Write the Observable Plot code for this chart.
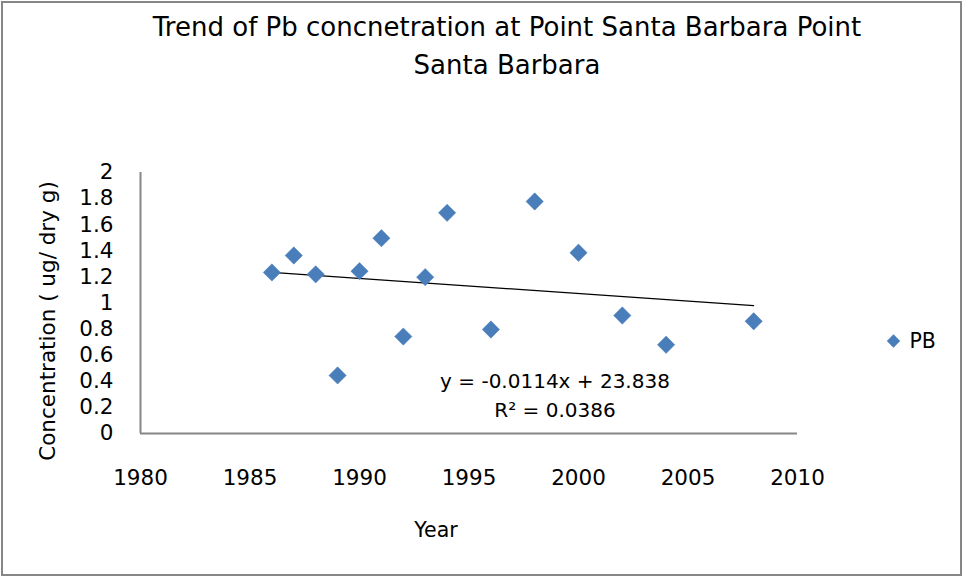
<!DOCTYPE html>
<html>
<head>
<meta charset="utf-8">
<script src="https://cdn.jsdelivr.net/npm/d3@7"></script>
<script src="https://cdn.jsdelivr.net/npm/@observablehq/plot@0.6"></script>
<style>
  html, body { margin: 0; padding: 0; background: #fff; }
  #wrap { position: relative; width: 963px; height: 577px; overflow: hidden; font-family: "DejaVu Sans", sans-serif; }
  #frame { position: absolute; left: 1px; top: 1px; border: 2px solid #868686; box-sizing: border-box; width: 961px; height: 575px; }
  .title { position: absolute; left: 0; width: 1014px; text-align: center; font-size: 26px; line-height: 30px; color: #000; white-space: nowrap; }
  #chart { position: absolute; left: 0; top: 0; }
</style>
</head>
<body>
<div id="wrap">
  <div id="chart"></div>
  <div id="frame"></div>
  <div class="title" style="top:12px">Trend of Pb concnetration at Point Santa Barbara Point</div>
  <div class="title" style="top:50px">Santa Barbara</div>
</div>
<script>
const years  = [1986, 1987, 1988, 1989, 1990, 1991, 1992, 1993, 1994, 1996, 1998, 2000, 2002, 2004, 2008];
const values = [1.234, 1.364, 1.22, 0.445, 1.244, 1.497, 0.743, 1.198, 1.691, 0.797, 1.778, 1.385, 0.904, 0.680, 0.860];
const seriesName = "PB";
const xTicks = [1980, 1985, 1990, 1995, 2000, 2005, 2010];
const yTicks = [0, 0.2, 0.4, 0.6, 0.8, 1, 1.2, 1.4, 1.6, 1.8, 2];
const equationLines = ["y = -0.0114x + 23.838", "R² = 0.0386"];

const data = years.map((y, i) => ({year: y, value: values[i]}));
const blue = "#4a7ebb";
const font = "DejaVu Sans, sans-serif";

const chart = Plot.plot({
  width: 963,
  height: 577,
  marginLeft: 140,
  marginRight: 166,
  marginTop: 172,
  marginBottom: 144,
  style: {fontFamily: font, fontSize: "21px", color: "#000", background: "transparent"},
  x: {domain: [1980, 2010], ticks: xTicks, tickFormat: d => String(d), label: null},
  y: {domain: [0, 2], ticks: yTicks, tickFormat: d => String(+d.toFixed(1)), label: null},
  marks: [
    Plot.axisX({ticks: xTicks, tickSize: 0, tickPadding: 36, tickFormat: d => String(d), fontSize: 21.5, label: null}),
    Plot.axisY({ticks: yTicks, tickSize: 0, tickPadding: 27, tickFormat: d => String(+d.toFixed(1)), fontSize: 21.5, label: null}),
    Plot.ruleX([1980], {stroke: "#868686", strokeWidth: 2}),
    Plot.ruleY([0], {stroke: "#868686", strokeWidth: 2}),
    Plot.linearRegressionY(data, {x: "year", y: "value", ci: 0, stroke: "#000", strokeWidth: 1.2}),
    Plot.dot(data, {x: "year", y: "value", symbol: "diamond2", r: 7.8, fill: blue, stroke: blue, strokeWidth: 0.5}),
    Plot.text([equationLines.join("\n")], {frameAnchor: "bottom", dx: 86, dy: -17, lineHeight: 1.45, fontSize: 20, fill: "#000", text: d => d}),
    Plot.text(["Year"], {frameAnchor: "bottom", dx: -33, dy: 103, fontSize: 20.5, fill: "#000", text: d => d}),
    Plot.text(["Concentration ( ug/ dry g)"], {frameAnchor: "left", textAnchor: "middle", dx: -92, dy: 18, rotate: -90, fontSize: 21.5, fill: "#000", text: d => d}),
    Plot.dot([seriesName], {frameAnchor: "right", dx: 96, dy: 38, symbol: "diamond2", r: 6, fill: blue}),
    Plot.text([seriesName], {frameAnchor: "right", dx: 112, dy: 38, textAnchor: "start", fontSize: 20.5, fill: "#000", text: d => d})
  ]
});
document.getElementById("chart").appendChild(chart);
</script>
</body>
</html>
